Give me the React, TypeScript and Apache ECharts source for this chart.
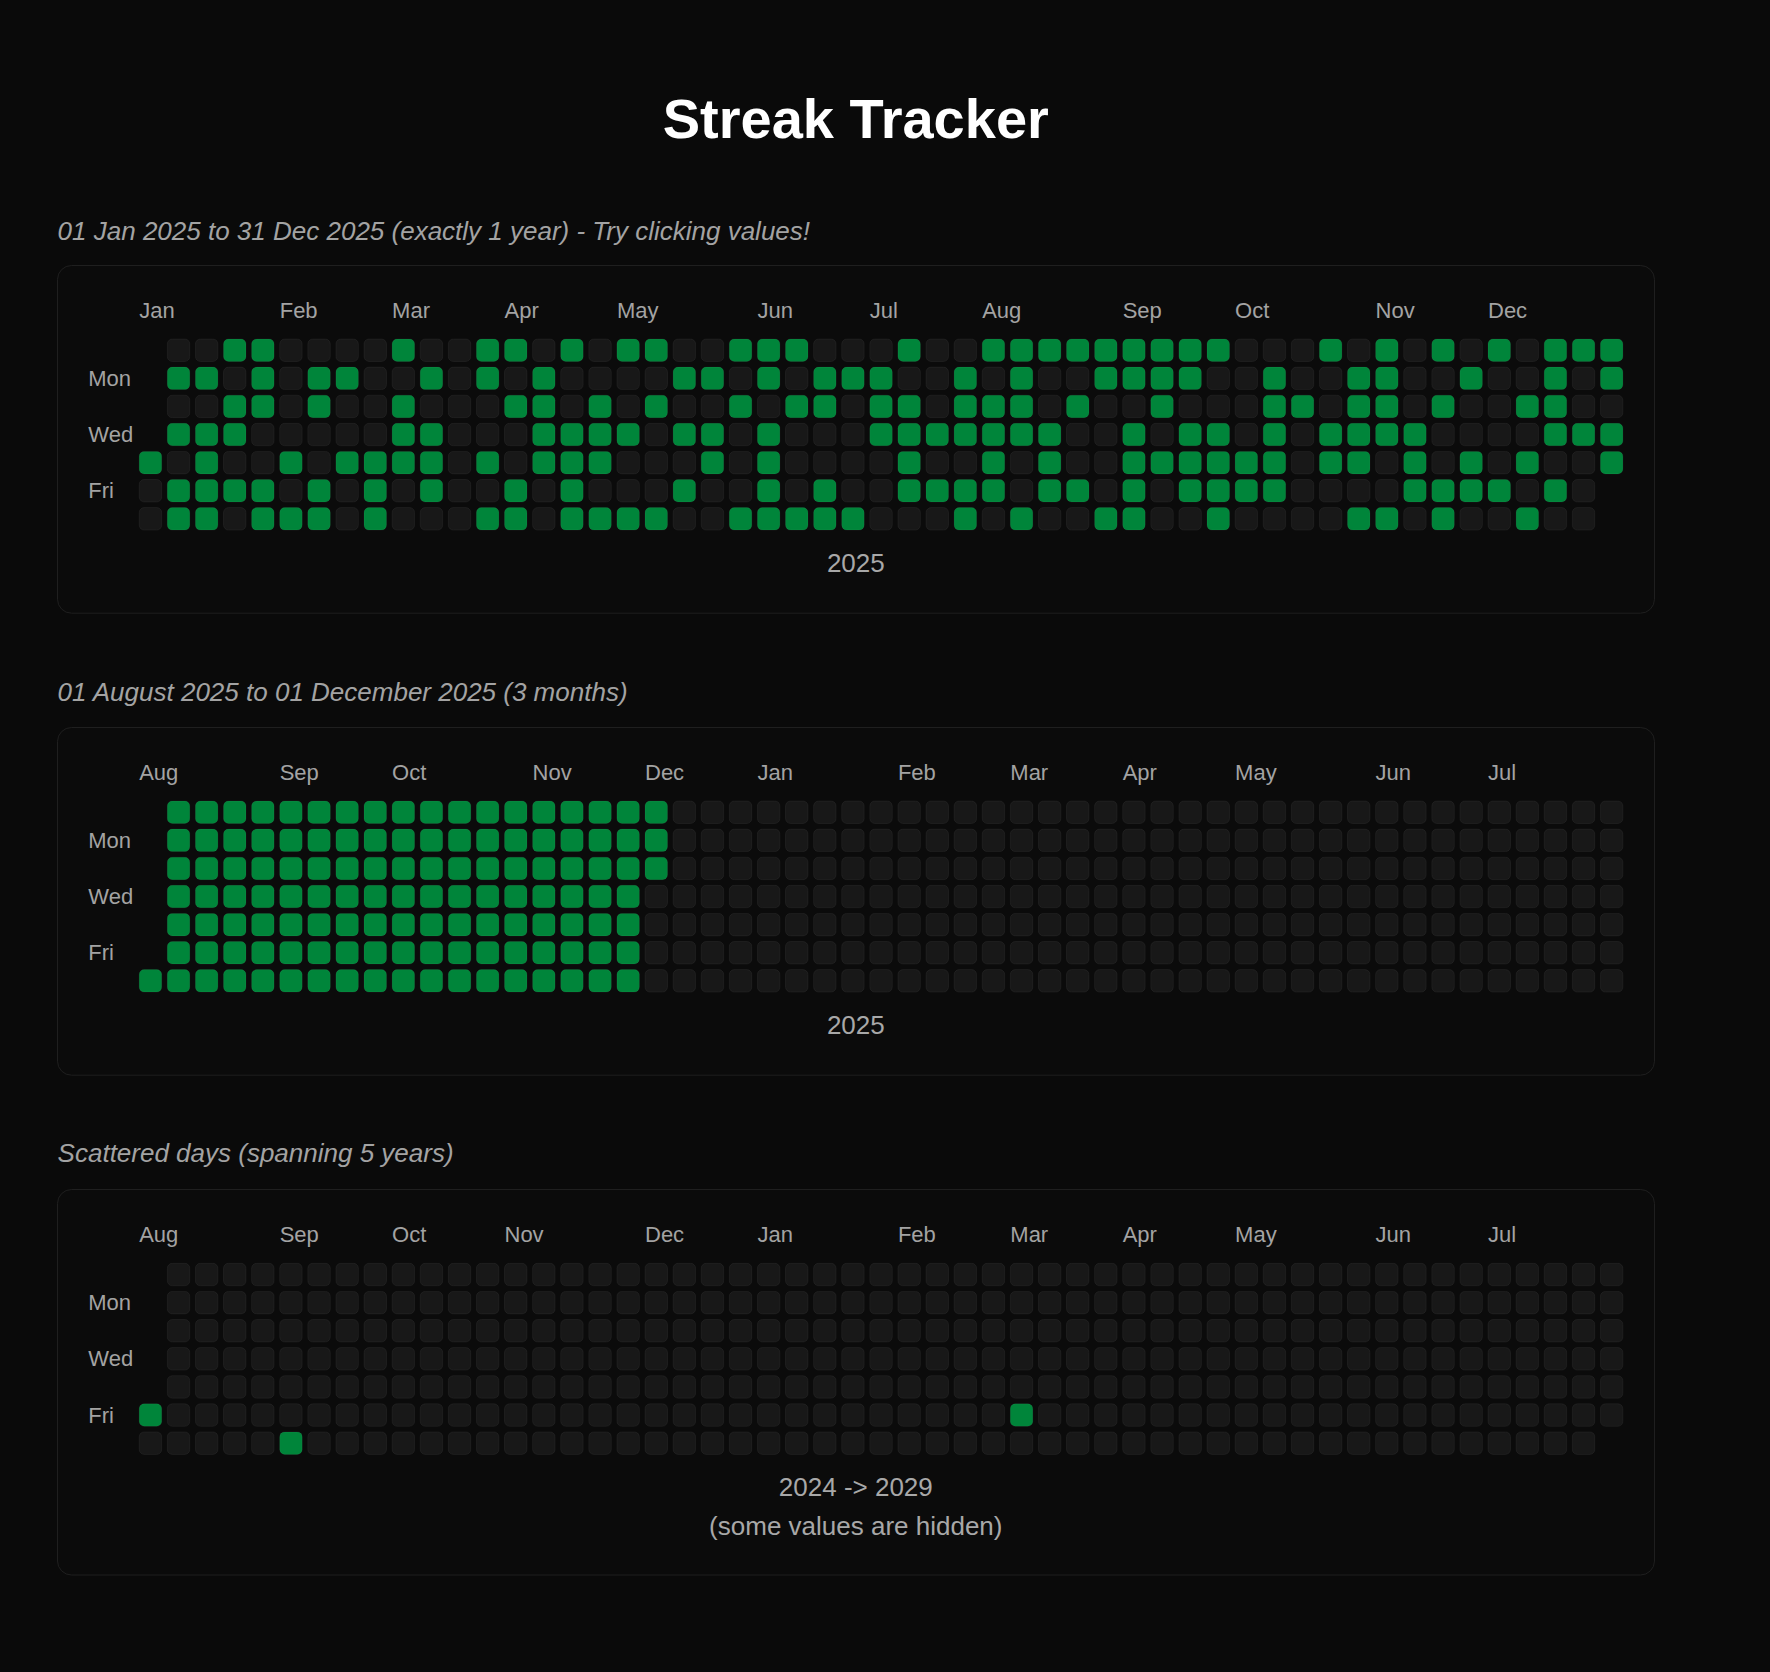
import React, { useEffect, useRef } from 'react';
import * as echarts from 'echarts';

// ---------------- data ----------------
const TITLE = 'Streak Tracker';
const SUBTITLES = [
  '01 Jan 2025 to 31 Dec 2025 (exactly 1 year) - Try clicking values!',
  '01 August 2025 to 01 December 2025 (3 months)',
  'Scattered days (spanning 5 years)',
];
const CALENDAR_RANGES: [string, string][] = [
  ['2025-01-01', '2025-12-31'],
  ['2025-08-01', '2026-07-31'],
  ['2024-08-01', '2025-07-31'],
];
const YEAR_CAPTIONS = ['2025', '2025', '2024 -> 2029\n(some values are hidden)'];
const MONTH_NAMES = ['Jan', 'Feb', 'Mar', 'Apr', 'May', 'Jun', 'Jul', 'Aug', 'Sep', 'Oct', 'Nov', 'Dec'];
// labels shown on the 7 rows, top to bottom
const ROW_LABELS = ['', 'Mon', '', 'Wed', '', 'Fri', ''];
const FIRST_DAY = 6; // week columns start on Saturday

// Chart 1: activity grid, one string per row (top to bottom), one char per week column.
// '1' = active day, '0' = inactive day, '.' = outside the range
const YEAR_2025_ROWS = [
  '.' + '0011000010' + '0110101100' + '1110001001' + '1111111100' + '0101010101' + '11',
  '.' + '1101011001' + '0101000011' + '0101110010' + '1001111001' + '0011001001' + '01',
  '.' + '0011010010' + '0011010100' + '1011011011' + '1010010001' + '1011010011' + '00',
  '.' + '1110000011' + '0001111011' + '0100011111' + '1100101101' + '0111100001' + '11',
  '1' + '0100101111' + '0101110001' + '0100001001' + '0100111111' + '0110101010' + '01',
  '0' + '1111010101' + '0010100010' + '0101001111' + '0110101111' + '0000111101' + '0.',
  '0' + '1101110100' + '0110111100' + '1111100010' + '1001100100' + '0011010010' + '0.',
];
// Chart 2: continuous streak
const STREAK_RANGE: [string, string] = ['2025-08-01', '2025-12-01'];
// Chart 3: scattered visible days
const SCATTERED_DAYS = ['2024-08-01', '2024-09-06', '2025-03-06'];

// ---------------- style / layout ----------------
const FONT = '"Liberation Sans", Arial, Helvetica, sans-serif';
const PAGE_BG = '#0a0a0a';
const CARD_BG = '#0b0b0b';
const CARD_BORDER = '#1f1f1f';
const LABEL = '#a3a3a3';
const EMPTY = '#181818';
const GREEN = '#00853a';
const CELL = 28.1;
const GAP = 5.6;
const GRID_LEFT = 136.4;
const GRID_TOP = [336.2, 798.2, 1260.5];
const CARD_X = 57.5;
const CARD_W = 1597;
const CARD_TOP = [265, 727, 1189];
const CARD_H = [347.7, 347.7, 385.5];
const SUB_Y = [231.2, 691.5, 1153];
const CAPTION_Y = [562.8, 1024.8, 1506.2];
const CENTER_X = 855.8;
const MONTH_LABEL_DY = -26.2;

// ---------------- helpers ----------------
const DAY = 86400000;
const toUTC = (s: string) => {
  const [y, m, d] = s.split('-').map(Number);
  return Date.UTC(y, m - 1, d);
};
const fmt = (t: number) => new Date(t).toISOString().slice(0, 10);
const daysBetween = (a: string, b: string) => {
  const out: string[] = [];
  for (let t = toUTC(a); t <= toUTC(b); t += DAY) out.push(fmt(t));
  return out;
};
const gridToDates = (rows: string[], start: string) => {
  const s = toUTC(start);
  const offset = (new Date(s).getUTCDay() + 7 - FIRST_DAY) % 7;
  const week0 = s - offset * DAY;
  const out: string[] = [];
  rows.forEach((row, r) => {
    for (let c = 0; c < row.length; c++) {
      if (row[c] === '1') out.push(fmt(week0 + (7 * c + r) * DAY));
    }
  });
  return out.sort();
};
const monthStarts = (range: [string, string]) => {
  const [y0, m0] = range[0].split('-').map(Number);
  const end = toUTC(range[1]);
  const out: { date: string; name: string }[] = [];
  let y = y0;
  let m = m0 - 1;
  while (Date.UTC(y, m, 1) <= end) {
    const t = Date.UTC(y, m, 1);
    if (t >= toUTC(range[0])) out.push({ date: fmt(t), name: MONTH_NAMES[m] });
    m++;
    if (m > 11) { m = 0; y++; }
  }
  return out;
};

const ACTIVE_DATES = [
  gridToDates(YEAR_2025_ROWS, CALENDAR_RANGES[0][0]),
  daysBetween(STREAK_RANGE[0], STREAK_RANGE[1]),
  SCATTERED_DAYS,
];

function buildOption() {
  const nameMap: string[] = new Array(7).fill('');
  ROW_LABELS.forEach((lab, row) => {
    nameMap[(row + FIRST_DAY) % 7] = lab ? `{d|${lab}}` : '';
  });

  const calendar = CALENDAR_RANGES.map((range, i) => ({
    orient: 'horizontal',
    range,
    left: GRID_LEFT,
    top: GRID_TOP[i],
    cellSize: [CELL, CELL],
    silent: true,
    splitLine: { show: false },
    itemStyle: { color: 'transparent', borderColor: 'transparent', borderWidth: GAP },
    yearLabel: { show: false },
    monthLabel: { show: false },
    dayLabel: {
      show: true,
      firstDay: FIRST_DAY,
      position: 'start',
      margin: 2.1,
      nameMap,
      color: LABEL,
      fontSize: 22,
      fontFamily: FONT,
      rich: { d: { width: 46, align: 'left', color: LABEL, fontSize: 22, fontFamily: FONT } },
    },
  }));

  const series: any[] = [];
  const heatmapIdx: number[] = [];
  CALENDAR_RANGES.forEach((range, i) => {
    const active = new Set(ACTIVE_DATES[i]);
    heatmapIdx.push(series.length);
    series.push({
      type: 'heatmap',
      coordinateSystem: 'calendar',
      calendarIndex: i,
      silent: true,
      emphasis: { disabled: true },
      itemStyle: { borderRadius: 5, borderColor: 'rgba(255,255,255,0.05)', borderWidth: 1 },
      data: daysBetween(range[0], range[1]).map((d) => [d, active.has(d) ? 1 : 0]),
    });
    const months = monthStarts(range);
    series.push({
      type: 'custom',
      coordinateSystem: 'calendar',
      calendarIndex: i,
      silent: true,
      z: 4,
      data: months.map((m) => [m.date, 0]),
      renderItem: (params: any, api: any) => {
        const p = api.coord([api.value(0)]);
        const cs = params.coordSys;
        return {
          type: 'text',
          x: p[0] - cs.cellWidth / 2 + GAP / 2,
          y: cs.y + MONTH_LABEL_DY,
          silent: true,
          style: {
            text: months[params.dataIndex].name,
            fill: LABEL,
            fontSize: 22,
            fontFamily: FONT,
            align: 'left',
            verticalAlign: 'middle',
          },
        };
      },
    });
  });

  const graphic: any[] = [
    {
      type: 'text',
      x: CENTER_X,
      y: 118.2,
      style: { text: TITLE, fill: '#ffffff', fontSize: 56, fontWeight: 'bold', fontFamily: FONT, align: 'center', verticalAlign: 'middle' },
    },
  ];
  CALENDAR_RANGES.forEach((_, i) => {
    graphic.push({
      type: 'rect',
      z: 0,
      shape: { x: CARD_X, y: CARD_TOP[i] + 0.5, width: CARD_W, height: CARD_H[i], r: 14 },
      style: { fill: CARD_BG, stroke: CARD_BORDER, lineWidth: 1 },
    });
    graphic.push({
      type: 'text',
      x: 57.6,
      y: SUB_Y[i],
      style: { text: SUBTITLES[i], fill: LABEL, fontSize: 26, fontStyle: 'italic', fontFamily: FONT, align: 'left', verticalAlign: 'middle' },
    });
    graphic.push({
      type: 'text',
      x: CENTER_X,
      y: CAPTION_Y[i],
      style: { text: YEAR_CAPTIONS[i], fill: '#a8a8a8', fontSize: 26, lineHeight: 39, fontFamily: FONT, align: 'center', verticalAlign: 'middle' },
    });
  });

  return {
    animation: false,
    backgroundColor: PAGE_BG,
    calendar,
    visualMap: {
      type: 'piecewise',
      show: false,
      seriesIndex: heatmapIdx,
      dimension: 1,
      pieces: [
        { value: 0, color: EMPTY },
        { value: 1, color: GREEN },
      ],
    },
    series,
    graphic,
  };
}

export default function App() {
  const ref = useRef<HTMLDivElement>(null);
  useEffect(() => {
    document.body.style.margin = '0';
    document.body.style.background = PAGE_BG;
    const chart = echarts.init(ref.current as HTMLDivElement, null, { renderer: 'svg' });
    chart.setOption(buildOption() as any);
    return () => chart.dispose();
  }, []);
  return <div ref={ref} style={{ width: 1770, height: 1672 }} />;
}
